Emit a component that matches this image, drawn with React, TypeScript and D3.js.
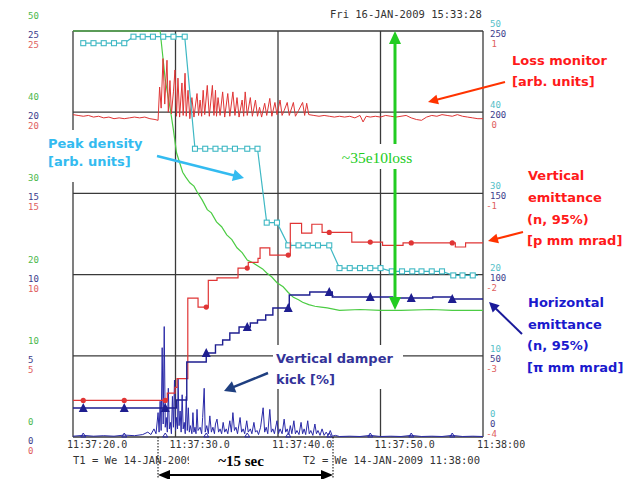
import React from "react";
import * as d3 from "d3";

// time is in seconds after 11:37:00
const timeTicks = [20, 30, 40, 50, 60];
const timeTickLabels = ["11:37:20.0", "11:37:30.0", "11:37:40.0", "11:37:50.0", "11:38:00"];

const greenTicks = [50, 40, 30, 20, 10, 0];
const blueLeftTicks = [25, 20, 15, 10, 5, 0];
const redLeftTicks = [25, 20, 15, 10, 5, 0];
const cyanRightTicks = [50, 40, 30, 20, 10, 0];
const blueRightTicks = [250, 200, 150, 100, 50, 0];
const redRightTicks = [1, 0, -1, -2, -3, -4];

const markerTimes = [21, 25, 29, 33, 37, 41, 45, 49, 53, 57];

// beam intensity (left green axis)
const intensity: [number, number][] = [
  [20, 50], [28.5, 50], [29.0, 44], [29.5, 40.3], [29.8, 37.8], [30.1, 35], [30.4, 33.8], [30.7, 32.6],
  [31.0, 32.0], [31.4, 31.3], [31.8, 30.9], [32.1, 30.2], [32.6, 29.2], [33.1, 28], [33.5, 27.6], [34.0, 26.5],
  [34.5, 25.9], [35.0, 24.9], [35.5, 24.3], [36.0, 23.3], [36.5, 22.7], [37.0, 21.8], [37.5, 21.5], [38.0, 21.1],
  [38.5, 20.7], [38.9, 20.2], [39.4, 19.7], [39.9, 19], [40.5, 18.5], [41.0, 17.8], [41.5, 17.2], [42.0, 16.9],
  [42.4, 16.6], [43.0, 16.3], [43.6, 16.1], [44.2, 16.0], [44.8, 15.9], [46.0, 15.6], [48.0, 15.7], [50.0, 15.6],
  [52.0, 15.6], [55.0, 15.7], [57.0, 15.6], [60.0, 15.6],
];

// peak density (right cyan axis)
const peakDensity: [number, number][] = [
  [21, 48.5], [22, 48.5], [23, 48.5], [24, 48.5], [25, 48.5], [25.9, 49.3], [26.8, 49.3], [27.8, 49.3],
  [28.8, 49.3], [29.8, 49.3], [30.9, 49.3], [31.9, 35.5], [32.9, 35.5], [33.9, 35.5], [34.8, 35.5],
  [35.8, 35.5], [37.0, 35.5], [38.0, 35.5], [38.9, 26.4], [39.9, 26.4], [41.0, 23.6], [42.0, 23.6],
  [42.9, 23.6], [43.9, 23.6], [45.0, 23.6], [46.0, 20.8], [47.0, 20.8], [48.0, 20.8], [49.0, 20.8],
  [50.0, 20.8], [51.1, 20.4], [52.1, 20.4], [53.1, 20.4], [54.0, 20.4], [55.0, 20.4], [56.0, 20.4],
  [57.1, 19.9], [58.0, 19.9], [59.0, 19.9],
];

// loss monitor (right red axis)
const lossMonitor: [number, number][] = [
  [20.0, -0.03], [20.5, -0.04], [21.0, -0.05], [21.5, -0.04], [22.0, -0.06], [22.5, -0.05], [23.0, -0.07],
  [23.5, -0.06], [24.0, -0.08], [24.5, -0.07], [25.0, -0.08], [25.5, -0.07], [26.0, -0.06], [26.5, -0.07],
  [27.0, -0.06], [27.5, -0.08], [28.0, -0.09], [28.3, -0.1], [28.45, 0.31], [28.6, 0.05], [28.78, 0.66],
  [28.95, 0.1], [29.17, 0.64], [29.3, 0.0], [29.46, 0.39], [29.6, -0.02], [29.8, 0.25], [29.95, 0.52],
  [30.1, -0.05], [30.24, 0.42], [30.4, -0.06], [30.63, 0.36], [30.75, -0.04], [30.93, 0.48], [31.05, -0.05],
  [31.22, 0.27], [31.4, -0.08], [31.6, 0.18], [31.8, -0.06], [32.1, 0.23], [32.25, -0.04], [32.4, 0.15],
  [32.55, -0.05], [32.7, 0.27], [32.85, -0.03], [33.1, 0.33], [33.3, -0.05], [33.6, 0.33], [33.75, -0.04],
  [33.9, 0.27], [34.0, -0.05], [34.15, 0.18], [34.35, -0.04], [34.6, 0.25], [34.8, -0.06], [35.1, 0.23],
  [35.3, -0.05], [35.6, 0.25], [35.8, -0.04], [36.0, 0.18], [36.2, -0.06], [36.5, 0.15], [36.65, -0.05],
  [36.8, 0.25], [37.0, -0.04], [37.3, 0.18], [37.5, -0.05], [37.8, 0.15], [38.0, -0.05], [38.2, 0.06],
  [38.4, -0.06], [38.7, 0.11], [38.9, -0.04], [39.2, 0.17], [39.4, -0.05], [39.7, 0.12], [39.9, -0.03],
  [40.2, 0.15], [40.4, -0.04], [40.6, 0.02], [40.9, 0.12], [41.1, -0.04], [41.5, 0.12], [41.7, -0.05],
  [42.0, 0.02], [42.4, 0.12], [42.6, -0.04], [42.8, 0.11], [43.0, -0.03], [43.5, -0.04], [44.0, -0.05],
  [44.5, -0.04], [45.0, -0.05], [45.5, -0.06], [46.0, -0.05], [46.5, -0.06], [47.0, -0.05], [47.5, -0.07],
  [48.0, -0.04], [48.3, -0.12], [48.6, -0.05], [49.0, -0.06], [49.5, -0.05], [50.0, -0.06], [50.5, -0.04],
  [51.0, -0.05], [51.5, -0.06], [52.0, -0.05], [52.5, -0.04], [53.0, -0.07], [53.5, -0.09], [54.0, -0.1],
  [54.5, -0.06], [55.0, -0.04], [55.5, -0.05], [56.0, -0.03], [56.5, -0.04], [57.0, -0.05], [57.5, -0.03],
  [58.0, -0.05], [58.5, -0.06], [59.0, -0.07], [59.5, -0.08], [60.0, -0.08],
];

// vertical emittance (right red axis, step)
const vertEmittance: [number, number][] = [
  [20, -3.55], [29.2, -3.46], [29.95, -3.39], [30.15, -3.28], [31.2, -2.29], [32.2, -2.4], [33.2, -2.07],
  [34.05, -2.04], [36.1, -1.92], [37.1, -1.85], [38.05, -1.8], [38.25, -1.67], [39.2, -1.76], [41.2, -1.37],
  [42.3, -1.49], [43.3, -1.38], [44.3, -1.48], [47.2, -1.6], [50.2, -1.64], [52.2, -1.61], [57.3, -1.66],
  [58.3, -1.61], [60, -1.61],
];

// horizontal emittance (right blue axis, step)
const horEmittance: [number, number][] = [
  [20, 17.9], [30.1, 22.8], [31.1, 46.2], [33.0, 51.7], [33.9, 56.7], [34.6, 59.7], [35.3, 64.0],
  [36.2, 67.7], [37.3, 70.2], [38.0, 72.0], [38.8, 75.1], [39.5, 79.4], [41.1, 87.4], [43.1, 89.3],
  [45.3, 86.2], [51.2, 85.6], [55.1, 86.2], [57.0, 85.0], [60, 85.0],
];

// vertical damper kick (left blue axis, %)
const damperKick: [number, number][] = [
  [20, 0.05], [21, 0.1], [22, 0.05], [23, 0.08], [24, 0.05], [25, 0.12], [26, 0.08], [26.8, 0.15], [27.3, 0.3],
  [27.6, 0.15], [27.9, 0.5], [28.1, 0.2], [28.3, 1.5], [28.4, 0.3], [28.5, 2.2], [28.6, 0.4], [28.7, 5.5],
  [28.8, 0.8], [28.9, 6.8], [29.0, 0.6], [29.1, 1.2], [29.2, 0.3], [29.3, 3.0], [29.4, 0.5], [29.5, 0.9],
  [29.6, 0.2], [29.7, 2.5], [29.8, 0.6], [29.9, 3.5], [30.0, 0.4], [30.1, 1.2], [30.2, 0.5], [30.25, 3.6],
  [30.35, 0.7], [30.45, 1.6], [30.55, 0.3], [30.65, 2.6], [30.75, 0.5], [30.85, 0.9], [30.95, 0.2], [31.05, 2.5],
  [31.15, 0.4], [31.25, 1.8], [31.35, 0.3], [31.45, 0.7], [31.6, 0.2], [31.7, 1.5], [31.8, 0.3], [31.9, 0.6],
  [32.0, 0.2], [32.1, 1.7], [32.2, 0.4], [32.4, 0.6], [32.55, 0.2], [32.65, 1.2], [32.8, 3.0], [32.9, 0.3],
  [33.05, 0.7], [33.2, 0.2], [33.35, 1.3], [33.5, 0.3], [33.65, 0.6], [33.8, 0.2], [33.9, 0.8], [34.05, 1.1],
  [34.2, 0.3], [34.35, 0.5], [34.5, 0.2], [34.65, 0.9], [34.8, 0.3], [34.95, 0.5], [35.1, 0.2], [35.3, 1.0],
  [35.45, 0.3], [35.6, 1.5], [35.75, 0.4], [35.9, 0.6], [36.05, 0.2], [36.3, 1.2], [36.45, 0.3], [36.6, 0.5],
  [36.75, 0.2], [36.95, 1.0], [37.1, 0.3], [37.3, 0.5], [37.45, 0.2], [37.65, 0.9], [37.8, 0.3], [37.95, 0.4],
  [38.1, 0.15], [38.3, 0.6], [38.55, 1.8], [38.7, 0.3], [38.85, 0.6], [39.0, 0.2], [39.2, 1.7], [39.35, 0.3],
  [39.5, 0.5], [39.65, 0.2], [39.9, 1.0], [40.05, 0.2], [40.2, 0.5], [40.4, 0.2], [40.6, 1.1], [40.75, 0.3],
  [40.9, 0.5], [41.05, 0.15], [41.2, 0.7], [41.35, 0.2], [41.55, 1.0], [41.7, 0.2], [41.85, 0.4], [42.05, 0.15],
  [42.25, 0.9], [42.4, 0.2], [42.55, 0.5], [42.7, 0.15], [42.9, 1.0], [43.05, 0.2], [43.2, 0.4], [43.4, 0.1],
  [43.6, 0.8], [43.75, 0.2], [43.9, 0.4], [44.1, 0.1], [44.3, 0.5], [44.5, 0.1], [44.7, 0.3], [44.9, 0.1],
  [45.1, 0.4], [45.3, 0.05], [45.6, 0.1], [46, 0.03], [47, 0.05], [48, 0.03], [49, 0.1], [50, 0.03], [51, 0.05],
  [52, 0.03], [53, 0.1], [54, 0.03], [55, 0.05], [56, 0.03], [57, 0.1], [58, 0.03], [59, 0.05], [60, 0.03],
];

const C = {
  grid: "#3a3a3a",
  green: "#4ccc44",
  greenArrow: "#22cc22",
  cyan: "#3fb8c4",
  red: "#e03535",
  navy: "#1e1e90",
  kick: "#2a2aa8",
  lblGreen: "#4cb84c",
  lblBlue: "#3c3c8c",
  lblRed: "#e06060",
  lblCyan: "#55c0c8",
};

const mono = "'DejaVu Sans Mono', monospace";
const annot = "'DejaVu Sans', sans-serif";
const serif = "'Liberation Serif', 'DejaVu Serif', serif";

function stepAt(series: [number, number][], t: number) {
  let v = series[0][1];
  for (const [ts, vs] of series) if (ts <= t) v = vs;
  return v;
}

function Arrow({ x1, y1, x2, y2, color, width = 2, head = 10, hw = 5, both = false }: any) {
  const a = Math.atan2(y2 - y1, x2 - x1);
  const tri = (x: number, y: number, ang: number) => {
    const bx = x - head * Math.cos(ang);
    const by = y - head * Math.sin(ang);
    return [
      [x, y],
      [bx + hw * Math.sin(ang), by - hw * Math.cos(ang)],
      [bx - hw * Math.sin(ang), by + hw * Math.cos(ang)],
    ]
      .map((p) => p.join(","))
      .join(" ");
  };
  const sx = both ? x1 + (head - 1) * Math.cos(a) : x1;
  const sy = both ? y1 + (head - 1) * Math.sin(a) : y1;
  const ex = x2 - (head - 1) * Math.cos(a);
  const ey = y2 - (head - 1) * Math.sin(a);
  return (
    <g>
      <line x1={sx} y1={sy} x2={ex} y2={ey} stroke={color} strokeWidth={width} />
      <polygon points={tri(x2, y2, a)} fill={color} />
      {both && <polygon points={tri(x1, y1, a + Math.PI)} fill={color} />}
    </g>
  );
}

export default function App() {
  const width = 633;
  const height = 479;
  const left = 73, right = 483, top = 31, bottom = 437;

  const x = d3.scaleLinear().domain([20, 60]).range([left, right]);
  const yGreen = d3.scaleLinear().domain([0, 50]).range([bottom, top]);
  const yKick = d3.scaleLinear().domain([0, 25]).range([bottom, top]);
  const yCyan = d3.scaleLinear().domain([0, 50]).range([bottom, top]);
  const yHor = d3.scaleLinear().domain([0, 250]).range([bottom, top]);
  const yRed = d3.scaleLinear().domain([-4, 1]).range([bottom, top]);

  const lineOf = (y: d3.ScaleLinear<number, number>, curve: d3.CurveFactory = d3.curveLinear) =>
    d3.line<[number, number]>().x((d) => x(d[0])).y((d) => y(d[1])).curve(curve);

  const gridY = greenTicks.map((v) => yGreen(v));

  return (
    <svg
      width={width}
      height={height}
      style={{ position: "absolute", left: 0, top: 0, background: "#fff" }}
    >
      <rect x={0} y={0} width={width} height={height} fill="#fff" />

      {/* header */}
      <text x={330} y={18} fontFamily={mono} fontSize={10.5} fill="#333">
        Fri 16-JAN-2009 15:33:28
      </text>

      {/* grid */}
      <g stroke={C.grid} strokeWidth={1.3}>
        {gridY.map((y, i) => (
          <line key={"h" + i} x1={left} x2={right} y1={y} y2={y} />
        ))}
        {timeTicks.map((t, i) => (
          <line key={"v" + i} x1={x(t)} x2={x(t)} y1={top} y2={bottom} />
        ))}
      </g>

      {/* left axis labels */}
      <g fontFamily={mono} fontSize={9}>
        {greenTicks.map((v, i) => (
          <text key={"g" + i} x={28} y={yGreen(v) - 12} fill={C.lblGreen}>{v}</text>
        ))}
        {blueLeftTicks.map((v, i) => (
          <text key={"b" + i} x={28} y={yKick(v) + 7} fill={C.lblBlue}>{v}</text>
        ))}
        {redLeftTicks.map((v, i) => (
          <text key={"r" + i} x={28} y={yKick(v) + 17} fill={C.lblRed}>{v}</text>
        ))}
      </g>

      {/* right axis labels */}
      <g fontFamily={mono} fontSize={9}>
        {cyanRightTicks.map((v, i) => (
          <text key={"c" + i} x={490} y={yCyan(v) - (v === 0 ? 20 : 4)} fill={C.lblCyan}>{v}</text>
        ))}
        {blueRightTicks.map((v, i) => (
          <text key={"b" + i} x={490} y={yHor(v) + (v === 0 ? -10 : 6)} fill={C.lblBlue}>{v}</text>
        ))}
        {redRightTicks.map((v, i) => (
          <text key={"r" + i} x={497} y={yRed(v) + (v === -4 ? 0 : 16)} fill={C.lblRed} textAnchor="end">
            {v}
          </text>
        ))}
      </g>

      {/* bottom labels */}
      <g fontFamily={mono} fontSize={10} fill="#333">
        {timeTicks.map((t, i) => (
          <text key={"t" + i} x={x(t) - 6} y={448}>{timeTickLabels[i]}</text>
        ))}
        <text x={73} y={464} fontSize={10.5}>T1 = We 14-JAN-2009</text>
        <text x={303} y={464} fontSize={10.5}>T2 = We 14-JAN-2009 11:38:00</text>
      </g>

      {/* series */}
      <path d={lineOf(yKick)(damperKick) || ""} fill="none" stroke={C.kick} strokeWidth={1} />
      {markerTimes.map((t, i) => (
        <polygon
          key={"km" + i}
          points={`${x(t) - 2.5},${yKick(0)} ${x(t)},${yKick(0) - 4} ${x(t) + 2.5},${yKick(0)}`}
          fill="none"
          stroke={C.kick}
          strokeWidth={1}
        />
      ))}

      <path d={lineOf(yGreen)(intensity) || ""} fill="none" stroke={C.green} strokeWidth={1.2} />

      <path d={lineOf(yRed)(lossMonitor) || ""} fill="none" stroke={C.red} strokeWidth={1} />

      <path d={lineOf(yCyan)(peakDensity.concat([[59.5, 19.9]])) || ""} fill="none" stroke={C.cyan} strokeWidth={1.2} />
      {peakDensity.map((d, i) => (
        <rect
          key={"pd" + i}
          x={x(d[0]) - 2.5}
          y={yCyan(d[1]) - 2.5}
          width={5}
          height={5}
          fill="#fff"
          stroke={C.cyan}
          strokeWidth={1.1}
        />
      ))}

      <path d={lineOf(yRed, d3.curveStepAfter)(vertEmittance) || ""} fill="none" stroke={C.red} strokeWidth={1.2} />
      {markerTimes.map((t, i) => (
        <circle key={"vm" + i} cx={x(t)} cy={yRed(stepAt(vertEmittance, t))} r={2.6} fill={C.red} />
      ))}

      <path d={lineOf(yHor, d3.curveStepAfter)(horEmittance) || ""} fill="none" stroke={C.navy} strokeWidth={1.4} />
      {markerTimes.map((t, i) => {
        const cy = yHor(stepAt(horEmittance, t));
        return (
          <polygon
            key={"hm" + i}
            points={`${x(t) - 4.5},${cy + 4} ${x(t)},${cy - 5} ${x(t) + 4.5},${cy + 4}`}
            fill={C.navy}
          />
        );
      })}

      {/* loss arrow */}
      <Arrow x1={395} y1={31} x2={395} y2={310} color={C.greenArrow} width={3} head={13} hw={6} both />
      <rect x={338} y={144} width={80} height={25} fill="#fff" />
      <text x={377} y={163} fontFamily={serif} fontSize={15.5} fill={C.greenArrow} textAnchor="middle">
        ~35e10loss
      </text>

      {/* peak density annotation */}
      <rect x={44} y={130} width={104} height={52} fill="#fff" />
      <g fontFamily={annot} fontWeight="bold" fontSize={13} fill="#33bbf0">
        <text x={48} y={148}>Peak density</text>
        <text x={48} y={166}>[arb. units]</text>
      </g>
      <Arrow x1={157} y1={156} x2={244} y2={178} color="#33bbf0" width={2.5} head={11} hw={6} />

      {/* damper kick annotation */}
      <rect x={273} y={345} width={130} height={44} fill="#fff" />
      <g fontFamily={annot} fontWeight="bold" fontSize={13} fill="#333399">
        <text x={276} y={363}>Vertical damper</text>
        <text x={276} y={384}>kick [%]</text>
      </g>
      <Arrow x1={268} y1={373} x2={224} y2={391} color="#1f3f80" width={2.5} head={11} hw={6} />

      {/* right side annotations */}
      <g fontFamily={annot} fontWeight="bold" fontSize={13} fill="#ff1a1a">
        <text x={512} y={65}>Loss monitor</text>
        <text x={512} y={86}>[arb. units]</text>
        <text x={528} y={180}>Vertical</text>
        <text x={528} y={202}>emittance</text>
        <text x={527} y={224}>(n, 95%)</text>
        <text x={527} y={245}>[p mm mrad]</text>
      </g>
      <Arrow x1={505} y1={82} x2={428} y2={102} color="#ff3300" width={2} head={10} hw={5} />
      <Arrow x1={523} y1={232} x2={488} y2={241} color="#ff3300" width={2} head={10} hw={5} />

      <g fontFamily={annot} fontWeight="bold" fontSize={13} fill="#1a1acd">
        <text x={528} y={307}>Horizontal</text>
        <text x={528} y={329}>emittance</text>
        <text x={527} y={350}>(n, 95%)</text>
        <text x={527} y={372}>[π mm mrad]</text>
      </g>
      <Arrow x1={522} y1={334} x2={489} y2={302} color="#1a1a9a" width={2} head={10} hw={5} />

      {/* ~15 sec span */}
      <line x1={158} x2={158} y1={437} y2={479} stroke="#000" strokeWidth={1} strokeDasharray="1.5,1.5" />
      <line x1={333} x2={333} y1={437} y2={479} stroke="#000" strokeWidth={1} strokeDasharray="1.5,1.5" />
      <rect x={189} y={450} width={98} height={20} fill="#fff" />
      <text x={241} y={466} fontFamily={serif} fontWeight="bold" fontSize={15} textAnchor="middle" fill="#000">
        ~15 sec
      </text>
      <Arrow x1={158} y1={475} x2={333} y2={475} color="#000" width={2} head={12} hw={5} both />
    </svg>
  );
}
